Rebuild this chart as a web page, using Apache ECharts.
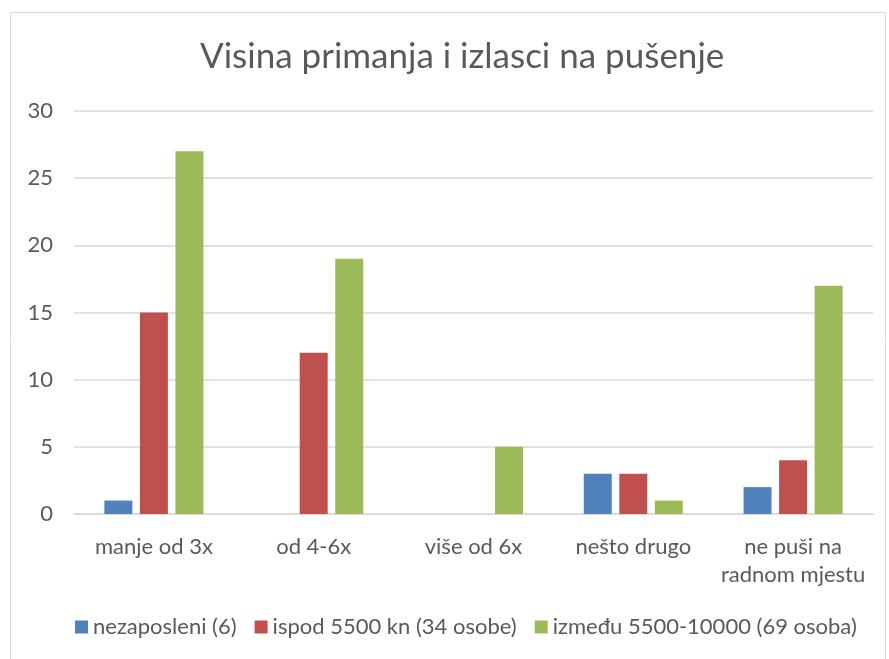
<!DOCTYPE html>
<html>
<head>
<meta charset="utf-8">
<script src="https://cdn.jsdelivr.net/npm/echarts@6/dist/echarts.min.js"></script>
<style>html,body{margin:0;padding:0;background:#fff}#c{width:889px;height:659px}</style>
</head>
<body>
<div id="c"></div>
<script>
const categories = ['manje od 3x', 'od 4-6x', 'više od 6x', 'nešto drugo', 'ne puši na\nradnom mjestu'];
const seriesNames = ['nezaposleni (6)', 'ispod 5500 kn (34 osobe)', 'između 5500-10000 (69 osoba)'];
const nezaposleni = [1, 0, 0, 3, 2];
const ispod5500 = [15, 12, 0, 3, 4];
const izmedju = [27, 19, 5, 1, 17];
const colors = ['#4F81BD', '#C0504D', '#9BBB59'];
const FONT = 'Lato';

const chart = echarts.init(document.getElementById('c'));
chart.setOption({
  animation: false,
  textStyle: { fontFamily: FONT },
  color: colors,
  graphic: [{
    type: 'rect', shape: { x: 10.5, y: 12.5, width: 875, height: 700 },
    style: { fill: 'none', stroke: '#d9d9d9', lineWidth: 1 }, silent: true
  }],
  title: {
    text: 'Visina primanja i izlasci na pušenje',
    left: 195, top: 34,
    textStyle: { fontFamily: FONT, fontSize: 35, fontWeight: 'normal', color: '#595959' }
  },
  legend: {
    bottom: 16, left: 70, itemWidth: 13, itemHeight: 13, itemGap: 18,
    icon: 'rect',
    textStyle: { fontFamily: FONT, fontSize: 22, color: '#595959' },
    data: seriesNames
  },
  grid: { left: 74, right: 16, top: 111, bottom: 145, containLabel: false },
  xAxis: {
    type: 'category', data: categories,
    axisLine: { lineStyle: { color: '#d9d9d9', width: 1.5 } },
    axisTick: { show: false },
    axisLabel: { interval: 0, fontFamily: FONT, fontSize: 22, color: '#595959', margin: 19, lineHeight: 28 }
  },
  yAxis: {
    type: 'value', min: 0, max: 30, interval: 5,
    axisLine: { show: false }, axisTick: { show: false },
    splitLine: { lineStyle: { color: '#d9d9d9', width: 1.5 } },
    axisLabel: { fontFamily: FONT, fontSize: 22, color: '#595959', margin: 21 }
  },
  series: [
    { name: seriesNames[0], type: 'bar', data: nezaposleni, barGap: '27%', barCategoryGap: '38%' },
    { name: seriesNames[1], type: 'bar', data: ispod5500 },
    { name: seriesNames[2], type: 'bar', data: izmedju }
  ]
});
</script>
</body>
</html>
